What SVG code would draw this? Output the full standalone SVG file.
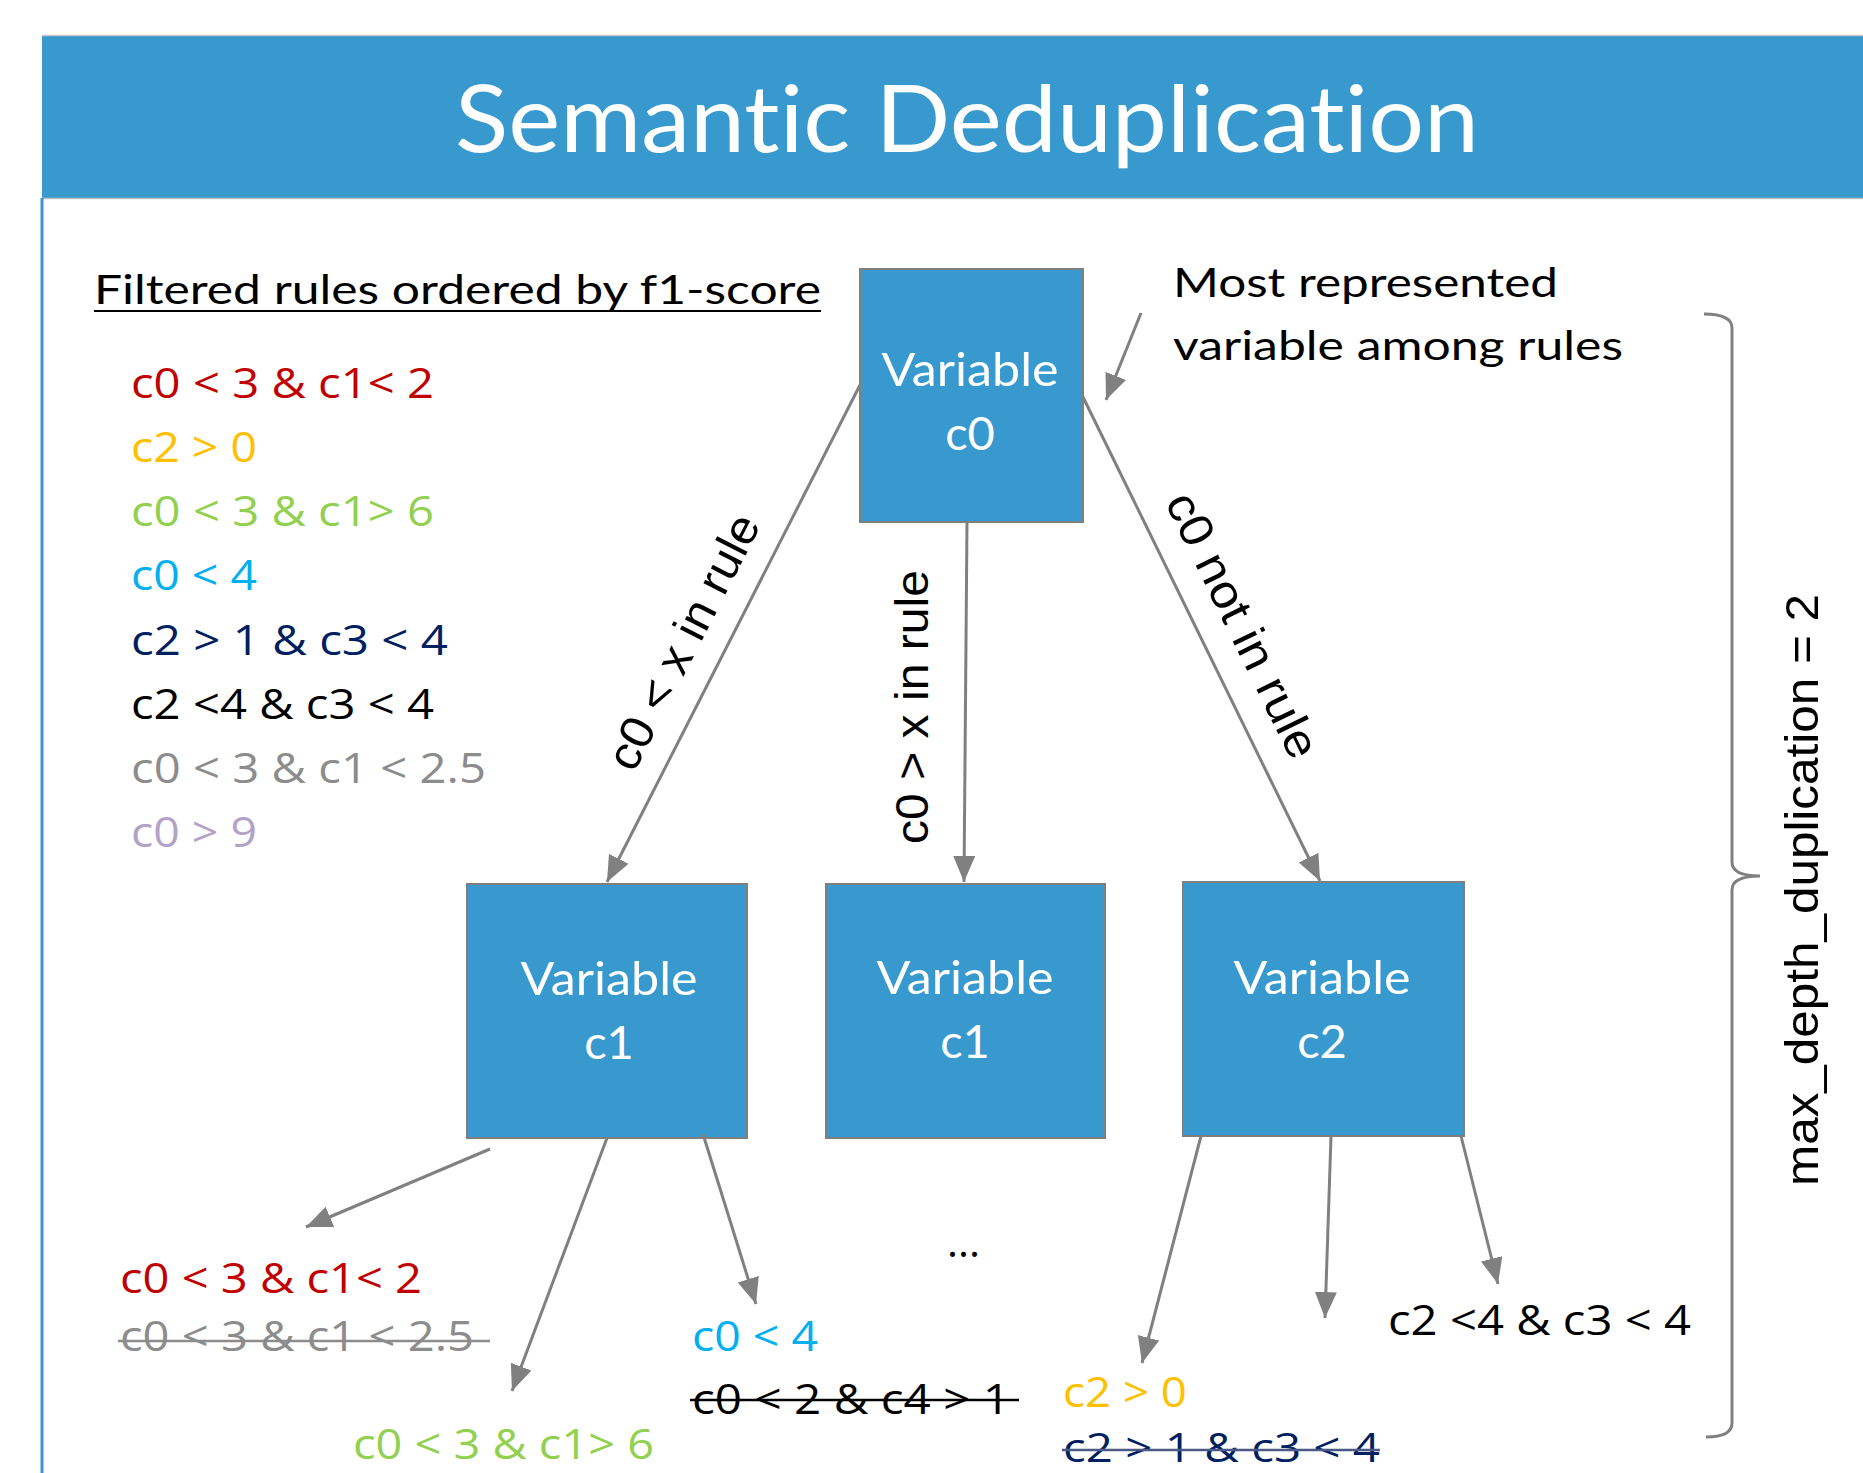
<svg xmlns="http://www.w3.org/2000/svg" width="1863" height="1473" viewBox="0 0 1863 1473">
<defs>
<style>
.cal{font-family:Lato,"Open Sans","Liberation Sans",sans-serif;font-variant-ligatures:none;}
.rule{font-family:"Open Sans",Lato,"Liberation Sans",sans-serif;font-size:42px;}
.ar{font-family:"Liberation Sans",Arial,sans-serif;font-size:47px;fill:#000;}
.node rect{fill:#3799CE;stroke:#7F7F7F;stroke-width:2;}
.node text{fill:#fff;font-size:47px;text-anchor:middle;}
.conn line{stroke:#808080;stroke-width:3;fill:none;}
.strike{stroke-width:2.5;}
</style>
<marker id="ah" markerUnits="userSpaceOnUse" markerWidth="28" markerHeight="24" refX="26" refY="11" orient="auto">
<path d="M0,0 L26,11 L0,22 z" fill="#808080"/>
</marker>
</defs>
<rect width="1863" height="1473" fill="#fff"/>
<g id="header">
<rect x="42" y="36" width="1821" height="162" fill="#3799CE"/>
<line x1="42" y1="35.5" x2="1863" y2="35.5" stroke="#C8C8C8" stroke-width="1.5"/>
<line x1="42" y1="198.5" x2="1863" y2="198.5" stroke="#BFBFBF" stroke-width="1.5"/>
<line x1="42" y1="198" x2="42" y2="1473" stroke="#3799CE" stroke-width="3"/>
<text class="cal" x="967" y="152" font-size="93" fill="#fff" text-anchor="middle" textLength="1024" lengthAdjust="spacingAndGlyphs">Semantic Deduplication</text>
</g>
<g id="rules-list">
<text class="cal" x="94" y="304" font-size="41" fill="#000" textLength="727" lengthAdjust="spacingAndGlyphs">Filtered rules ordered by f1-score</text>
<line x1="94" y1="311" x2="821" y2="311" stroke="#000" stroke-width="2"/>
<g class="rule">
<text x="131" y="398" fill="#C00000" textLength="303" lengthAdjust="spacingAndGlyphs">c0 &lt; 3 &amp; c1&lt; 2</text>
<text x="131" y="462" fill="#FFC000" textLength="126" lengthAdjust="spacingAndGlyphs">c2 &gt; 0</text>
<text x="131" y="526" fill="#92D050" textLength="303" lengthAdjust="spacingAndGlyphs">c0 &lt; 3 &amp; c1&gt; 6</text>
<text x="131" y="590" fill="#00B0F0" textLength="126" lengthAdjust="spacingAndGlyphs">c0 &lt; 4</text>
<text x="131" y="655" fill="#002060" textLength="317" lengthAdjust="spacingAndGlyphs">c2 &gt; 1 &amp; c3 &lt; 4</text>
<text x="131" y="719" fill="#000000" textLength="303" lengthAdjust="spacingAndGlyphs">c2 &lt;4 &amp; c3 &lt; 4</text>
<text x="131" y="783" fill="#8C8C8C" textLength="355" lengthAdjust="spacingAndGlyphs">c0 &lt; 3 &amp; c1 &lt; 2.5</text>
<text x="131" y="847" fill="#B3A2C7" textLength="126" lengthAdjust="spacingAndGlyphs">c0 &gt; 9</text>
</g>
</g>
<g id="annotation">
<text class="cal" x="1173" y="297" font-size="40" fill="#000" textLength="385" lengthAdjust="spacingAndGlyphs">Most represented</text>
<text class="cal" x="1173" y="360" font-size="40" fill="#000" textLength="450" lengthAdjust="spacingAndGlyphs">variable among rules</text>
</g>
<g id="node-c0" class="node cal">
<rect x="860" y="269" width="223" height="253"/>
<text x="970" y="386" textLength="177" lengthAdjust="spacingAndGlyphs">Variable</text>
<text x="970" y="450">c0</text>
</g>
<g id="node-c1-left" class="node cal">
<rect x="467" y="884" width="280" height="254"/>
<text x="609" y="995" textLength="177" lengthAdjust="spacingAndGlyphs">Variable</text>
<text x="609" y="1059">c1</text>
</g>
<g id="node-c1-mid" class="node cal">
<rect x="826" y="884" width="279" height="254"/>
<text x="965" y="994" textLength="177" lengthAdjust="spacingAndGlyphs">Variable</text>
<text x="965" y="1058">c1</text>
</g>
<g id="node-c2" class="node cal">
<rect x="1183" y="882" width="281" height="254"/>
<text x="1322" y="994" textLength="177" lengthAdjust="spacingAndGlyphs">Variable</text>
<text x="1322" y="1058">c2</text>
</g>
<g id="connectors" class="conn">
<line x1="1141" y1="313" x2="1106" y2="400" marker-end="url(#ah)"/>
<line x1="860" y1="385" x2="607" y2="882" marker-end="url(#ah)"/>
<line x1="967" y1="522" x2="964" y2="882" marker-end="url(#ah)"/>
<line x1="1083" y1="397" x2="1320" y2="881" marker-end="url(#ah)"/>
<line x1="490" y1="1149" x2="306" y2="1227" marker-end="url(#ah)"/>
<line x1="607" y1="1138" x2="512" y2="1391" marker-end="url(#ah)"/>
<line x1="703" y1="1134" x2="756" y2="1304" marker-end="url(#ah)"/>
<line x1="1201" y1="1136" x2="1142" y2="1363" marker-end="url(#ah)"/>
<line x1="1331" y1="1136" x2="1325" y2="1318" marker-end="url(#ah)"/>
<line x1="1461" y1="1136" x2="1498" y2="1284" marker-end="url(#ah)"/>
</g>
<g id="edge-labels">
<text class="ar" transform="translate(719,660) rotate(-62.86)" y="-24" text-anchor="middle" textLength="280" lengthAdjust="spacingAndGlyphs">c0 &lt; x in rule</text>
<text class="ar" transform="translate(928,707) rotate(-90)" text-anchor="middle" textLength="274" lengthAdjust="spacingAndGlyphs">c0 &gt; x in rule</text>
<text class="ar" transform="translate(1204,644) rotate(63.9)" y="-27" text-anchor="middle" textLength="290" lengthAdjust="spacingAndGlyphs">c0 not in rule</text>
</g>
<g id="bracket">
<path d="M1704,314 Q1732,314 1732,328 L1732,862 Q1732,876 1760,876 Q1732,876 1732,890 L1732,1423 Q1732,1437 1706,1437" fill="none" stroke="#808080" stroke-width="3"/>
<text class="ar" transform="translate(1818,890) rotate(-90)" text-anchor="middle" textLength="592" lengthAdjust="spacingAndGlyphs">max_depth_duplication = 2</text>
</g>
<g id="leaf-texts" class="rule">
<text x="120" y="1293" fill="#C00000" textLength="302" lengthAdjust="spacingAndGlyphs">c0 &lt; 3 &amp; c1&lt; 2</text>
<text x="120" y="1351" fill="#8C8C8C" textLength="354" lengthAdjust="spacingAndGlyphs">c0 &lt; 3 &amp; c1 &lt; 2.5</text>
<line class="strike" x1="118" y1="1341" x2="490" y2="1341" stroke="#8C8C8C"/>
<text x="353" y="1459" fill="#92D050" textLength="301" lengthAdjust="spacingAndGlyphs">c0 &lt; 3 &amp; c1&gt; 6</text>
<text x="692" y="1351" fill="#00B0F0" textLength="126" lengthAdjust="spacingAndGlyphs">c0 &lt; 4</text>
<text x="692" y="1414" fill="#000000" textLength="318" lengthAdjust="spacingAndGlyphs">c0 &lt; 2 &amp; c4 &gt; 1</text>
<line class="strike" x1="690" y1="1400" x2="1019" y2="1400" stroke="#000"/>
<text x="947" y="1257" fill="#000">...</text>
<text x="1063" y="1407" fill="#FFC000" textLength="124" lengthAdjust="spacingAndGlyphs">c2 &gt; 0</text>
<text x="1063" y="1462" fill="#002060" font-size="40" textLength="317" lengthAdjust="spacingAndGlyphs">c2 &gt; 1 &amp; c3 &lt; 4</text>
<line class="strike" x1="1062" y1="1450" x2="1380" y2="1450" stroke="#4A5A85"/>
<text x="1388" y="1335" fill="#000000" textLength="303" lengthAdjust="spacingAndGlyphs">c2 &lt;4 &amp; c3 &lt; 4</text>
</g>
</svg>
